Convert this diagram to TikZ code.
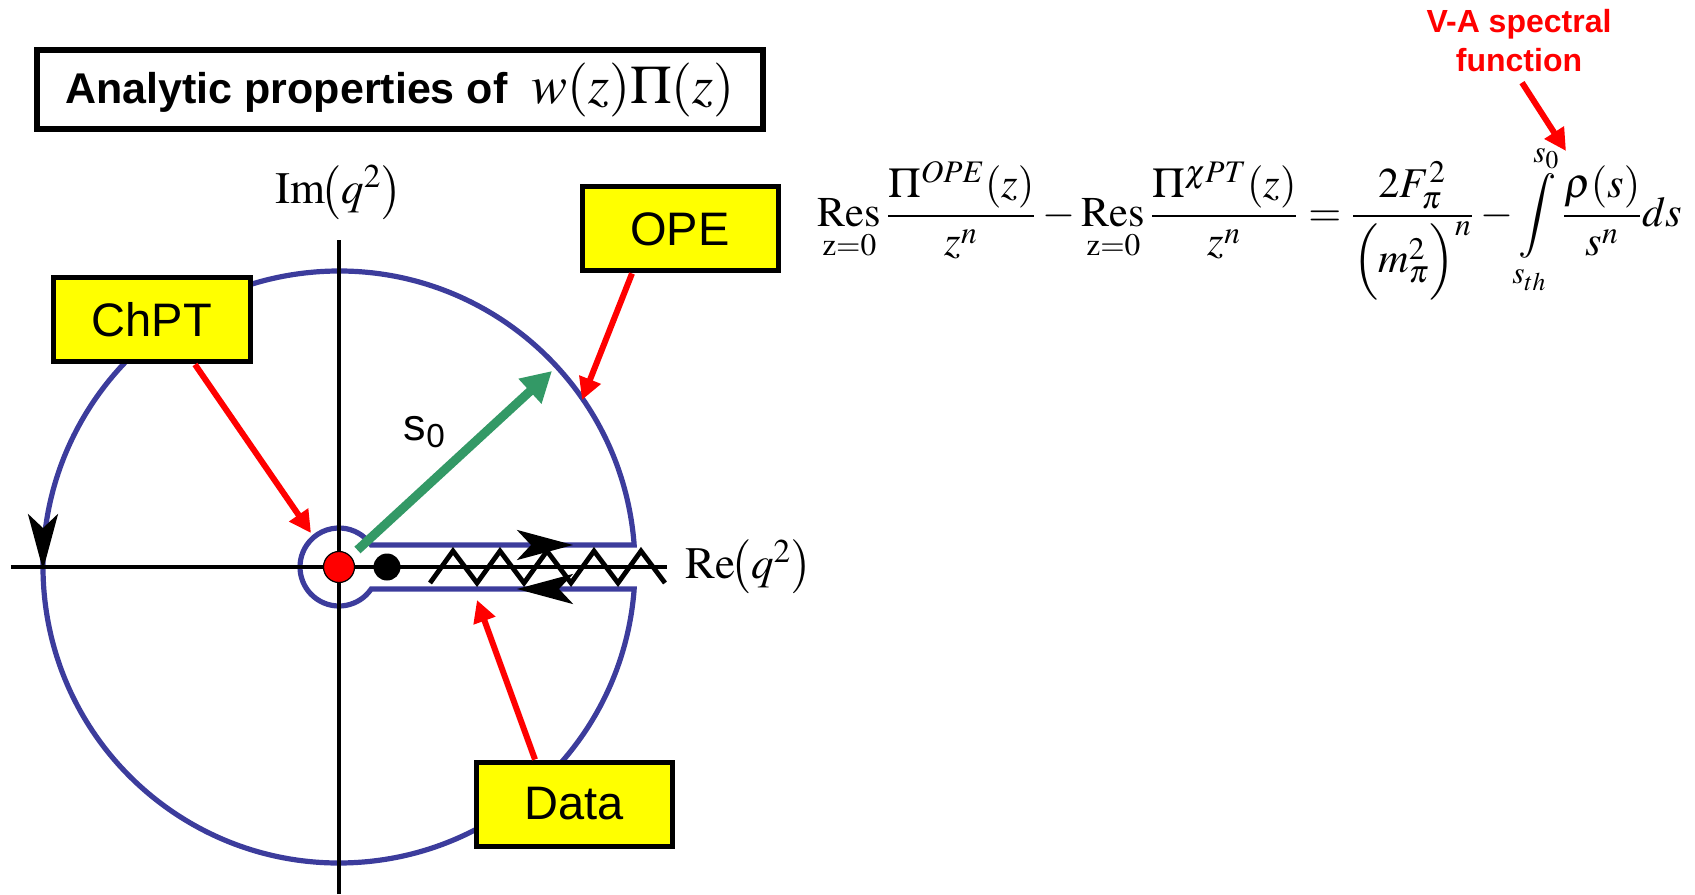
\documentclass[tikz,border=0pt]{standalone}
\usepackage{amsmath}
\usepackage{mathptmx}
\usepackage[no-math]{fontspec}
\setmainfont{Liberation Serif}
\setsansfont{Liberation Sans}
\usetikzlibrary{positioning,arrows.meta,calc}
\definecolor{cContour}{HTML}{3C3C9C}
\definecolor{cRadius}{HTML}{339966}
\definecolor{cPoint}{HTML}{FF0000}
\definecolor{cTag}{HTML}{FFFF00}
\tikzset{
  tag/.style={draw, line width=2.5pt, fill=cTag, inner sep=0pt,
              minimum width=98pt, minimum height=42pt,
              font=\sffamily\fontsize{23.5}{28}\selectfont},
  ttl/.style={draw, line width=3pt, fill=white, inner sep=0pt,
              minimum width=363pt, minimum height=39.5pt},
  ax/.style={line width=2.4pt},
  cont/.style={line width=2.6pt, draw=cContour},
  cutar/.style={-{Stealth[length=28pt,width=15pt,inset=7pt]}, line width=2pt},
  ar/.style={-{Triangle[length=11pt,width=11pt]}, line width=3pt, cPoint},
  rad/.style={-{Triangle[length=15pt,width=16pt]}, line width=4.5pt, cRadius},
  lbl/.style={inner sep=0pt},
}

\begin{document}
\begin{tikzpicture}[x=0.5pt,y=0.5pt]
  \useasboundingbox (-339,-327) rectangle (1356,567);
  % contour in the q^2 plane
  \draw[cont] (4.26:296) arc[start angle=4.26, end angle=355.74, radius=296]
    -- (-34.33:39) arc[start angle=-34.33, end angle=-325.67, radius=39] -- cycle;
  \coordinate (O) at (0,0);
  \coordinate (xend) at (328,0);
  \coordinate (yend) at (0,327);
  \draw[ax] (-328,0) -- (xend);
  \draw[ax] (0,-327) -- (yend);
  % cut
  \draw[ax, line join=miter] (91,-16)
    \foreach \k in {0,...,4} { -- ({114+47*\k},16) -- ({138+47*\k},-16) };
  \draw[cutar] (-296,14) -- (-296,-3);
  \draw[cutar] (214,22) -- (234,22);
  \draw[cutar] (198,-22) -- (178,-22);
  \node[circle, fill=cPoint, draw=black, line width=0.6pt, minimum size=15.5pt, inner sep=0pt] (pole) at (O) {};
  \node[circle, fill=black, minimum size=13.5pt, inner sep=0pt, right=9pt of pole] (thr) {};
  % radius
  \coordinate (s0tip) at (213,196);
  \draw[rad, shorten <=4.5pt] (pole) -- (s0tip);
  \node[lbl, font=\sffamily\fontsize{22.5}{26}\selectfont] (s0) at (86,135) {s\textsubscript{0}};
  \node[lbl, above=10pt of yend, font=\fontsize{22.5}{26}\selectfont] (im) {$\mathrm{Im}\!\bigl(q^{2}\bigr)$};
  \node[lbl, right=9pt of xend, font=\fontsize{22.5}{26}\selectfont] (re) {$\mathrm{Re}\!\bigl(q^{2}\bigr)$};

  \node[ttl] (title) at (61,477)
    {\sffamily\bfseries\fontsize{21.5}{25}\selectfont Analytic properties of\ \ {\fontsize{27}{32}\selectfont$w(z)\Pi(z)$}};
  \node[tag] (chpt) at (-187,247) {ChPT};
  \node[tag] (ope) at (341,338) {OPE};
  \node[tag] (data) at (235,-237) {Data};

  \coordinate (chpttip) at (-28,34);
  \coordinate (opetip) at (243,167);
  \coordinate (datatip) at (138,-33);
  \draw[ar] ([xshift=21.5pt]chpt.south) -- (chpttip);
  \draw[ar] ([xshift=-24pt]ope.south) -- (opetip);
  \draw[ar] ([xshift=-19.5pt]data.north) -- (datatip);

  % sum rule
  \node[lbl, font=\fontsize{21.2}{26}\selectfont] (eq) at (911,345)
    {$\displaystyle \mathop{\mathrm{Res}}_{\mathrm{z=0}}\frac{\Pi^{OPE}(z)}{z^{n}}
      -\mathop{\mathrm{Res}}_{\mathrm{z=0}}\frac{\Pi^{\chi PT}(z)}{z^{n}}
      =\frac{2F_{\pi}^{2}}{\Bigl(m_{\pi}^{2}\Bigr)^{n}}
      -\int\limits_{s_{th}}^{s_{0}}\frac{\rho(s)}{s^{n}}ds$};
  \node[lbl, align=center, text=cPoint, font=\sffamily\bfseries\fontsize{16}{19.5}\selectfont] (va) at (1180,526)
    {V-A spectral\\function};
  \coordinate (vatip) at (1227,416);
  \draw[ar] ([xshift=1.5pt,yshift=-5pt]va.south) -- (vatip);
\end{tikzpicture}
\end{document}
